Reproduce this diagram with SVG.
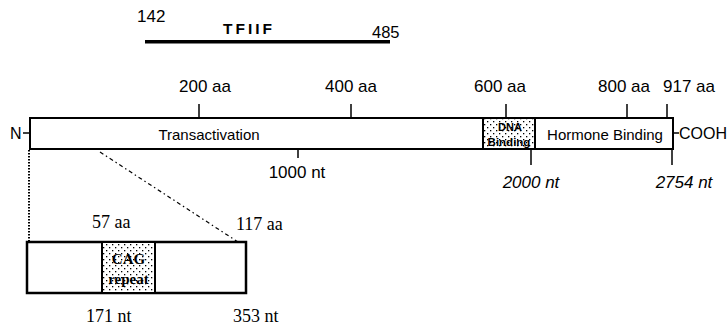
<svg xmlns="http://www.w3.org/2000/svg" width="727" height="329" viewBox="0 0 727 329">
<style>
.s{font-family:"Liberation Sans",Arial,sans-serif;fill:#000}
.t{font-family:"Liberation Serif","Times New Roman",serif;fill:#000}
.ln{stroke:#000;stroke-width:1.5;fill:none}
.box{stroke:#000;stroke-width:2;fill:#fff}
</style>
<defs>
<pattern id="dots" width="6" height="6" patternUnits="userSpaceOnUse">
<rect width="6" height="6" fill="#fff"/>
<rect x="1" y="1" width="1.3" height="1.3" fill="#000"/>
<rect x="4" y="4" width="1.3" height="1.3" fill="#000"/>
</pattern>
</defs>
<g id="tfiif">
<rect x="145" y="40" width="245" height="3.5" fill="#000"/>
<text class="s" x="137" y="22" font-size="17">142</text>
<text class="s" x="223" y="34" font-size="15.5" font-weight="bold" letter-spacing="3">TFIIF</text>
<text class="s" x="372" y="38" font-size="16.5">485</text>
</g>
<g id="protein">
<rect class="box" x="30" y="118" width="643" height="31"/>
<text class="s" x="209" y="140" font-size="15" text-anchor="middle">Transactivation</text>
<text class="s" x="605" y="140" font-size="15" text-anchor="middle">Hormone Binding</text>
</g>
<g id="dna-binding">
<rect x="483" y="118" width="52" height="31" fill="url(#dots)" stroke="#000" stroke-width="2"/>
<text class="s" x="510" y="131" font-size="11" font-weight="bold" text-anchor="middle">DNA</text>
<text class="s" x="509" y="145.5" font-size="11.5" font-weight="bold" text-anchor="middle">Binding</text>
</g>
<g id="ends">
<text class="s" x="10" y="139" font-size="16">N</text>
<text class="s" x="679" y="139" font-size="16">COOH</text>
</g>
<g id="scale-labels">
<text class="s" x="205" y="92" font-size="17" text-anchor="middle">200 aa</text>
<text class="s" x="351" y="92" font-size="17" text-anchor="middle">400 aa</text>
<text class="s" x="500" y="92" font-size="17" text-anchor="middle">600 aa</text>
<text class="s" x="624" y="92" font-size="17" text-anchor="middle">800 aa</text>
<text class="s" x="689" y="92" font-size="17" text-anchor="middle">917 aa</text>
<text class="s" x="297" y="178" font-size="17" text-anchor="middle">1000 nt</text>
<text class="s" x="531" y="188" font-size="17" font-style="italic" text-anchor="middle">2000 nt</text>
<text class="s" x="684" y="188" font-size="17" font-style="italic" text-anchor="middle">2754 nt</text>
</g>
<g id="inset">
<rect x="27" y="242" width="219" height="51" fill="#fff" stroke="#000" stroke-width="2.5"/>
<rect x="102" y="242" width="53" height="51" fill="url(#dots)" stroke="#000" stroke-width="2"/>
<text class="t" x="128.5" y="264" font-size="15" font-weight="bold" text-anchor="middle">CAG</text>
<text class="t" x="128.5" y="284" font-size="15" font-weight="bold" text-anchor="middle">repeat</text>
<text class="t" x="92" y="228" font-size="18">57 aa</text>
<text class="t" x="236" y="230" font-size="18">117 aa</text>
<text class="t" x="86" y="322" font-size="18">171 nt</text>
<text class="t" x="233" y="322" font-size="18">353 nt</text>
</g>
<g id="connectors">
<line class="ln" x1="199" y1="104" x2="199" y2="118"/>
<line class="ln" x1="351" y1="104" x2="351" y2="118"/>
<line class="ln" x1="506" y1="104" x2="506" y2="118"/>
<line class="ln" x1="627" y1="104" x2="627" y2="118"/>
<line class="ln" x1="667" y1="104" x2="667" y2="118"/>
<line class="ln" x1="298" y1="149" x2="298" y2="158"/>
<line class="ln" x1="531" y1="149" x2="531" y2="165"/>
<line class="ln" x1="672" y1="149" x2="672" y2="165"/>
<line class="ln" x1="23" y1="133" x2="30" y2="133"/>
<line class="ln" x1="673" y1="133" x2="679" y2="133"/>
<line x1="29" y1="150" x2="29" y2="242" stroke="#000" stroke-width="2" stroke-dasharray="1.5 1.5"/>
<line x1="100" y1="152" x2="238" y2="242" stroke="#000" stroke-width="1.2" stroke-dasharray="4 3 1.5 3"/>
</g>
</svg>
